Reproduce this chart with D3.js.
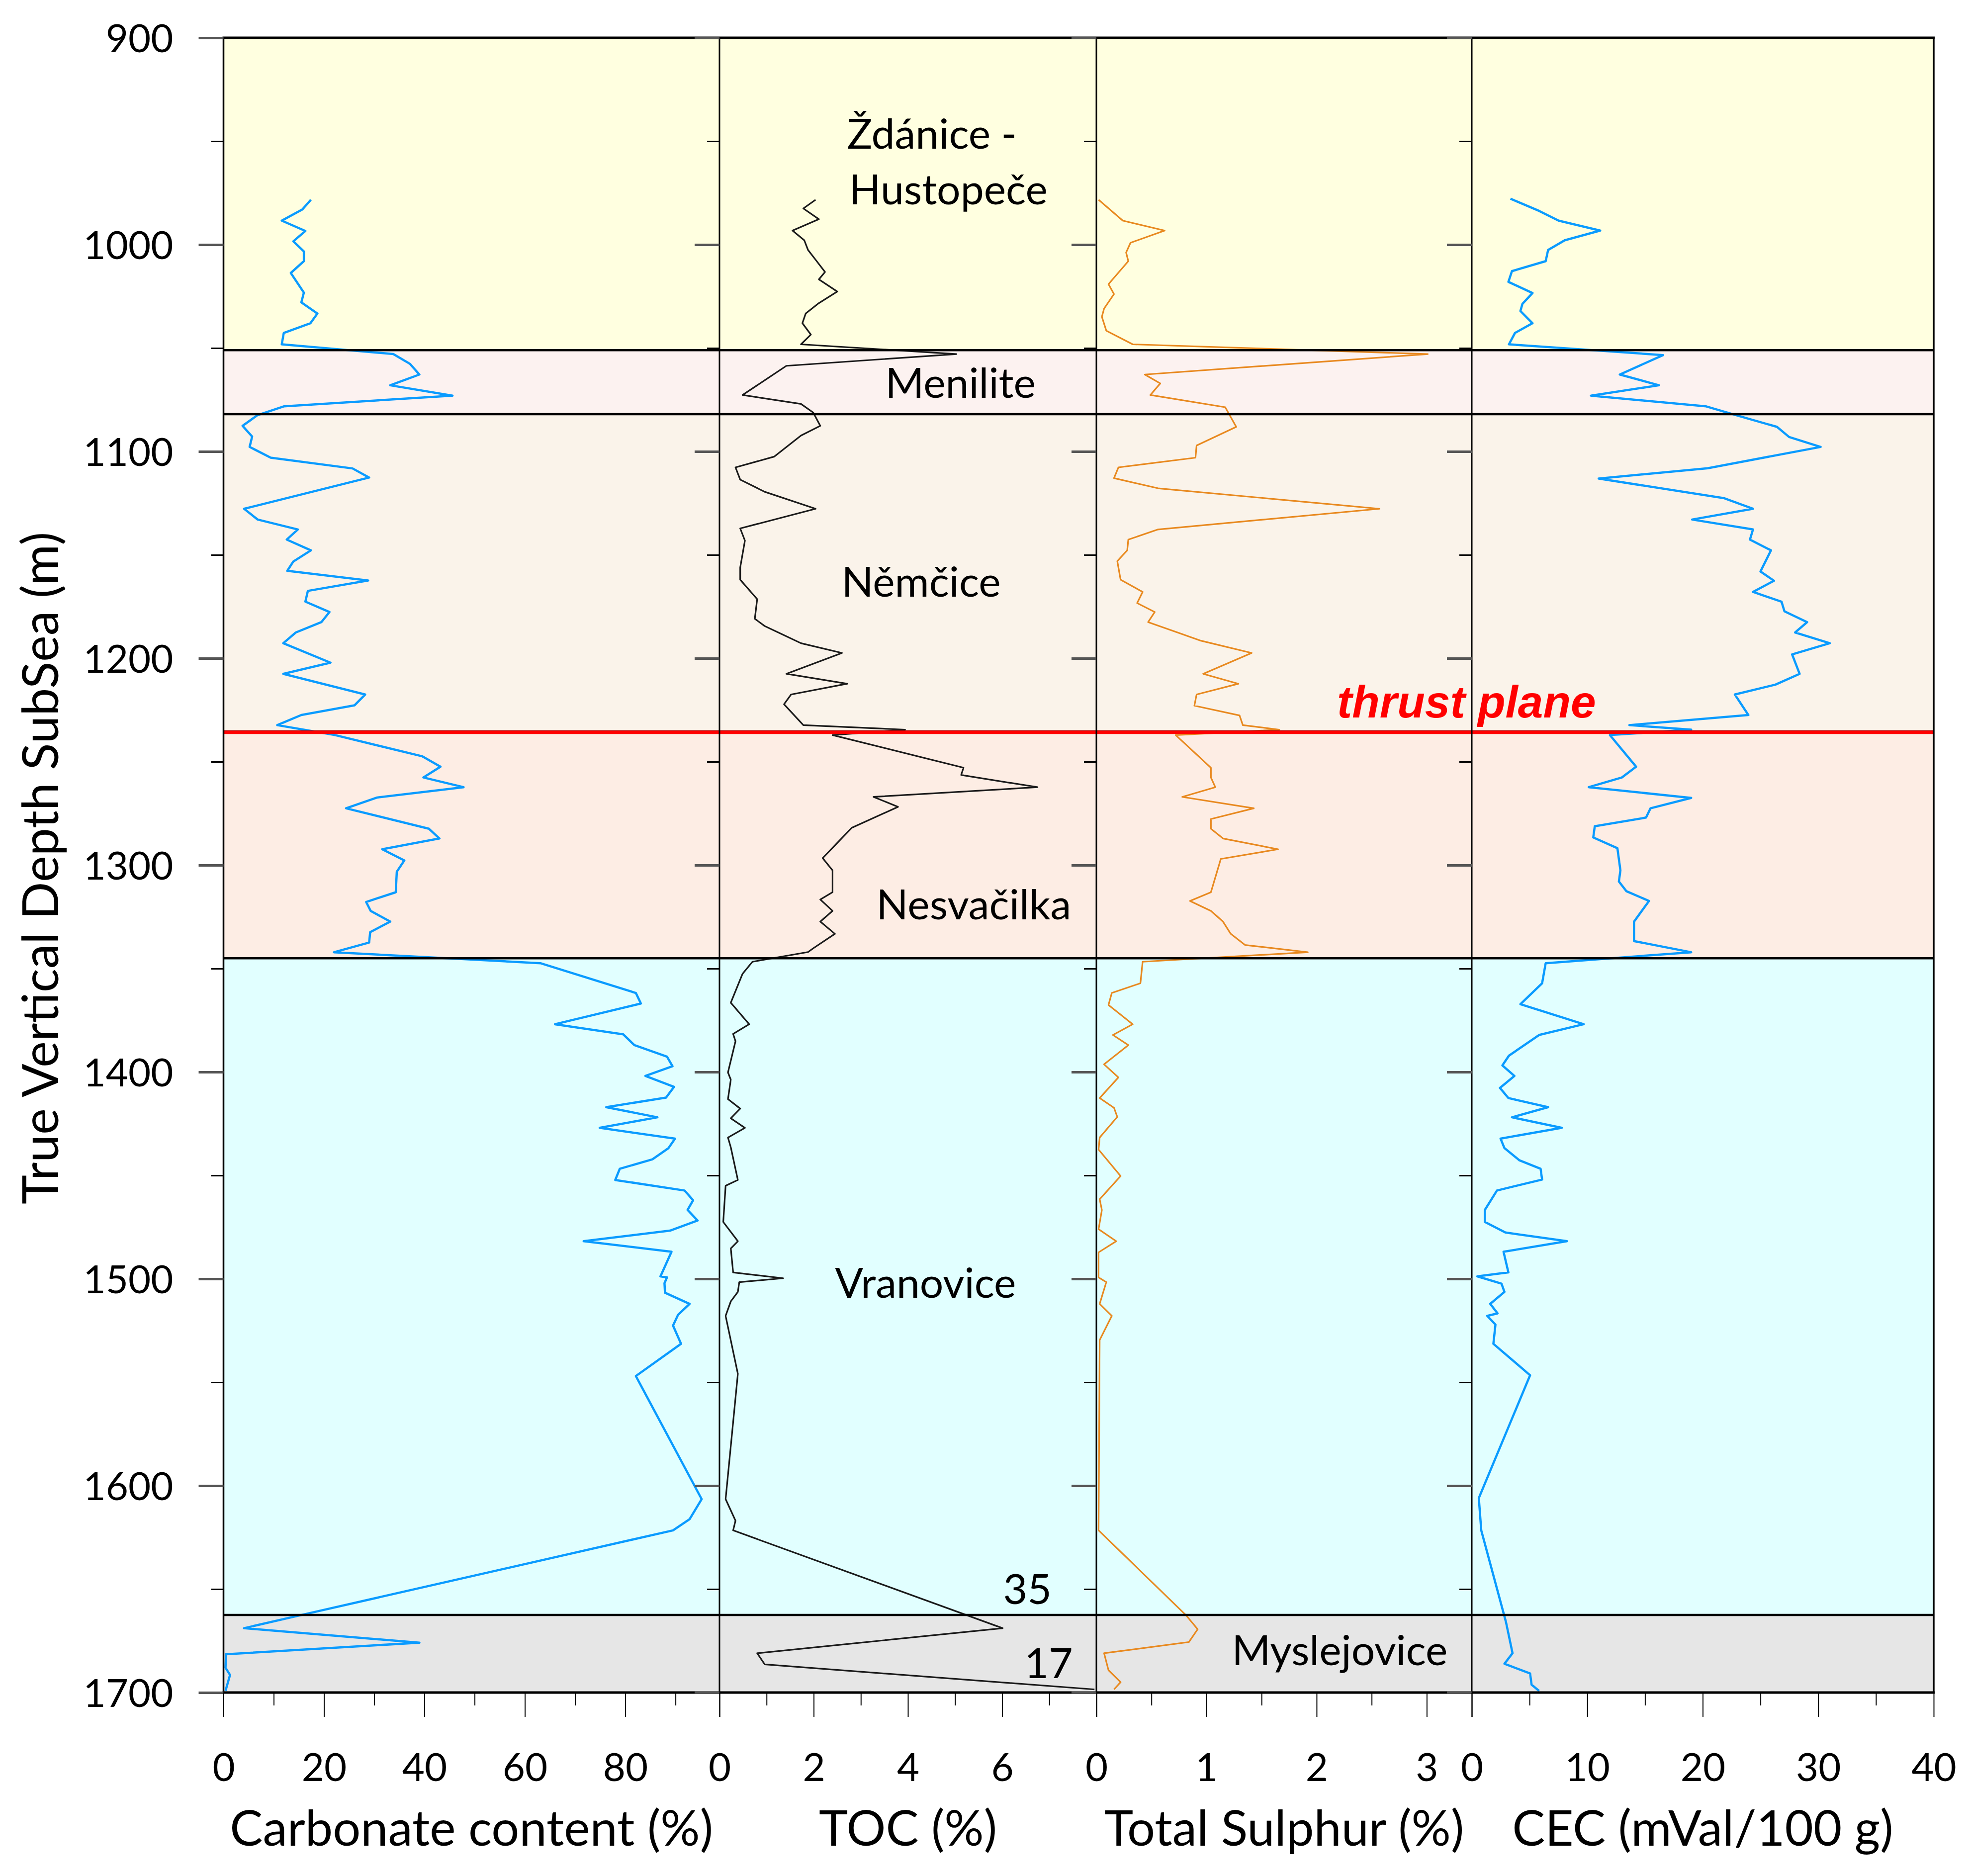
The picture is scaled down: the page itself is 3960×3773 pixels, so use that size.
<!DOCTYPE html>
<html>
<head>
<meta charset="utf-8">
<script src="https://cdn.jsdelivr.net/npm/d3@7/dist/d3.min.js"></script>
<style>
  html, body { margin: 0; padding: 0; background: #ffffff; }
  svg { display: block; }
</style>
</head>
<body>
<svg id="chart" width="3960" height="3773"></svg>
<script>
// ---------------- DATA ----------------
const depthMajorTicks = [900, 1000, 1100, 1200, 1300, 1400, 1500, 1600, 1700];
const depthMinorTicks = [950, 1050, 1150, 1250, 1350, 1450, 1550, 1650];

const zoneNames = ["Ždánice - Hustopeče", "Menilite", "Němčice", "Nesvačilka", "Vranovice", "Myslejovice"];
const zoneTop   = [900, 1051, 1082, 1235.5, 1345, 1662.5];
const zoneBase  = [1051, 1082, 1235.5, 1345, 1662.5, 1700];
const thrustDepth = 1235.5;

const carbDepth = [978.3,983.0,988.4,993.4,998.4,1003.3,1008.0,1013.7,1023.2,1027.9,1033.3,1038.0,1042.7,1048.2,
  1052.9,1057.6,1062.8,1068.0,1073.0,1078.2,1082.4,1087.6,1092.8,1097.8,1103.0,1108.2,1112.6,1127.7,1132.9,1137.7,
  1142.6,1147.8,1153.2,1157.7,1162.4,1167.4,1172.6,1177.6,1182.5,1187.5,1192.7,1202.1,1207.5,1217.5,1222.7,1227.4,
  1232.3,1237.1,1247.4,1252.4,1257.6,1262.3,1267.3,1272.5,1282.4,1287.1,1292.3,1297.7,1303.2,1313.1,1317.8,1322.1,
  1327.3,1332.4,1337.4,1342.1,1347.4,1361.8,1366.9,1376.9,1381.8,1387.0,1392.6,1397.2,1401.9,1407.2,1412.4,1417.0,
  1421.9,1427.0,1432.2,1436.8,1442.2,1446.8,1452.2,1457.3,1462.0,1466.7,1471.8,1476.7,1481.8,1486.9,1498.8,1499.3,
  1502.1,1506.7,1512.1,1517.4,1522.6,1531.4,1547.0,1606.5,1616.2,1621.6,1662.4,1668.9,1675.9,1681.5,1688.0,1691.5,1699.2];
const carbValue = [17.4,15.7,11.6,16.3,13.9,16.0,16.0,13.4,16.0,15.5,18.7,17.3,12.0,11.6,
  33.8,37.1,39.0,33.2,45.6,12.0,6.8,3.8,5.7,5.2,9.4,25.7,29.0,4.1,6.8,14.8,
  12.6,17.4,13.9,12.7,28.8,16.8,16.3,21.1,19.5,14.4,11.9,21.3,11.9,28.2,26.1,15.5,
  10.7,22.2,39.6,43.2,39.8,47.8,30.6,24.4,40.9,43.0,31.6,36.0,34.5,34.3,28.4,29.3,
  33.2,29.2,29.0,22.0,63.1,82.1,83.1,66.0,79.6,81.8,88.3,89.4,84.0,89.7,88.1,76.2,
  86.4,74.9,89.9,88.6,85.4,78.9,78.0,91.8,93.5,92.4,94.4,88.9,71.7,89.2,87.0,88.3,
  87.8,87.9,92.8,90.5,89.5,91.1,82.1,95.2,92.8,89.5,15.7,4.1,39.0,0.5,0.4,1.3,0.4];

const tocDepth = [978.3,982.5,987.7,993.2,997.9,1002.6,1007.3,1013.2,1016.8,1022.7,1028.6,1033.3,1038.0,1043.5,1048.2,
  1052.9,1058.6,1072.7,1077.0,1081.2,1087.6,1092.3,1102.5,1107.7,1113.6,1119.5,1127.7,1137.2,1143.1,1156.1,1162.0,
  1171.4,1180.9,1184.4,1192.7,1197.4,1207.5,1212.3,1217.5,1222.2,1232.3,1234.5,1237.1,1252.9,1256.4,1262.3,1267.0,
  1271.8,1281.9,1296.6,1302.5,1313.1,1316.6,1322.1,1327.3,1333.2,1340.2,1342.0,1346.7,1352.5,1366.5,1376.9,1381.6,
  1385.1,1400.2,1403.7,1413.1,1417.7,1422.4,1427.0,1431.7,1436.4,1452.2,1455.0,1472.5,1481.8,1485.3,1496.9,1499.7,
  1501.6,1506.3,1510.9,1517.9,1545.9,1606.5,1616.9,1621.6,1668.9,1681.0,1686.4,1698.5];
const tocValue = [2.04,1.78,2.11,1.55,1.80,1.88,2.04,2.24,2.11,2.50,2.09,1.83,1.76,1.94,1.73,
  5.03,1.42,0.49,1.73,1.99,2.14,1.73,1.16,0.34,0.44,0.96,2.04,0.44,0.54,0.44,0.44,
  0.80,0.75,0.96,1.73,2.60,1.42,2.71,1.52,1.37,1.78,3.94,2.40,5.18,5.13,6.75,3.27,
  3.79,2.81,2.19,2.40,2.40,2.14,2.40,2.14,2.45,1.99,1.88,0.70,0.49,0.24,0.63,0.29,
  0.34,0.18,0.24,0.18,0.44,0.24,0.54,0.18,0.24,0.39,0.13,0.08,0.39,0.24,0.29,1.35,
  0.42,0.39,0.24,0.13,0.39,0.13,0.34,0.29,6.01,0.80,0.96,7.96];

const sulphDepth = [978.3,988.4,993.2,999.1,1003.8,1008.0,1019.1,1023.9,1030.9,1034.9,1041.6,1048.2,1052.9,1062.8,
  1067.1,1072.7,1078.6,1088.1,1097.1,1103.0,1107.7,1112.9,1117.8,1127.7,1137.7,1142.6,1147.8,1153.0,1162.0,1167.9,
  1173.3,1177.6,1182.5,1191.5,1197.4,1207.5,1212.3,1217.5,1222.9,1227.6,1232.3,1234.5,1237.1,1252.9,1257.6,1262.3,
  1267.0,1272.5,1277.7,1282.4,1287.1,1292.3,1297.0,1313.1,1317.3,1322.1,1327.3,1333.2,1338.6,1342.1,1346.7,1357.1,
  1361.8,1367.6,1376.9,1382.1,1387.0,1396.3,1402.6,1412.6,1417.3,1421.7,1431.7,1437.5,1450.3,1461.5,1466.7,1476.0,
  1481.8,1487.2,1499.3,1501.6,1512.1,1517.9,1529.6,1621.6,1662.4,1669.4,1675.6,1681.0,1689.2,1695.0,1698.5];
const sulphValue = [0.02,0.24,0.62,0.31,0.27,0.29,0.11,0.16,0.07,0.05,0.09,0.33,3.01,0.44,
  0.58,0.49,1.17,1.27,0.91,0.90,0.20,0.16,0.56,2.57,0.56,0.29,0.28,0.19,0.22,0.42,
  0.37,0.53,0.47,0.95,1.41,0.97,1.29,0.91,0.89,1.30,1.33,1.66,0.72,1.04,1.04,1.08,
  0.78,1.43,1.04,1.04,1.15,1.65,1.13,1.04,0.85,1.04,1.15,1.22,1.35,1.92,0.42,0.40,
  0.14,0.11,0.33,0.15,0.29,0.07,0.20,0.03,0.16,0.19,0.03,0.02,0.22,0.03,0.05,0.02,
  0.18,0.02,0.02,0.09,0.03,0.14,0.03,0.02,0.81,0.92,0.84,0.07,0.11,0.22,0.16];

const cecDepth = [977.8,983.7,988.4,993.2,997.9,1002.6,1008.0,1012.8,1018.0,1023.4,1028.6,1032.1,1038.0,1042.7,1048.2,
  1053.4,1062.8,1068.0,1073.0,1078.2,1082.9,1088.1,1093.0,1097.8,1108.1,1113.1,1122.6,1127.7,1132.9,1137.7,1142.6,
  1147.8,1158.0,1162.5,1167.9,1172.6,1177.3,1182.5,1187.5,1192.7,1198.1,1207.5,1212.7,1217.5,1227.4,1232.3,1234.5,
  1237.1,1252.4,1257.6,1262.3,1267.5,1272.5,1277.0,1281.2,1286.6,1291.8,1302.5,1307.9,1312.6,1317.3,1327.3,1336.7,
  1342.1,1347.4,1357.1,1367.2,1376.9,1382.1,1392.1,1396.8,1401.9,1407.7,1412.6,1417.0,1421.9,1427.0,1432.2,1436.8,
  1442.7,1446.8,1452.0,1457.3,1466.7,1472.5,1477.6,1481.8,1486.9,1496.9,1498.8,1502.3,1506.3,1512.1,1516.7,1517.9,
  1522.1,1531.4,1546.6,1606.0,1621.6,1665.9,1681.0,1686.1,1690.8,1696.2,1699.2];
const cecValue = [3.35,5.83,7.52,11.12,8.05,6.61,6.40,3.48,3.17,5.26,4.39,4.21,5.26,3.74,3.22,
  16.57,12.82,16.21,10.32,20.3,23.17,26.43,27.48,30.21,20.43,10.99,21.87,24.35,19.08,24.35,24.09,
  25.91,25.0,26.17,24.35,26.82,27.08,29.04,28.0,31.0,27.74,28.39,26.3,22.78,23.95,13.65,19.0,
  11.96,14.23,13.0,10.13,19.0,15.48,15.09,10.65,10.52,12.61,12.87,12.74,13.39,15.35,14.05,14.05,
  19.0,6.40,6.09,4.21,9.69,5.83,3.22,2.65,3.69,2.44,3.17,6.61,3.48,7.79,2.49,2.83,
  4.13,5.96,6.09,2.18,1.13,1.13,2.91,8.25,2.75,3.17,0.48,2.57,2.83,1.60,2.23,1.34,
  2.05,1.87,5.05,0.61,0.82,2.96,3.53,2.83,5.05,5.18,5.83];

// bottom-axis tick values
const carbTicks = [0, 20, 40, 60, 80];
const carbMinor = [10, 30, 50, 70, 90];
const tocTicks = [0, 2, 4, 6];
const tocMinor = [1, 3, 5, 7];
const sulphTicks = [0, 1, 2, 3];
const sulphMinor = [0.5, 1.5, 2.5];
const cecTicks = [0, 10, 20, 30, 40];
const cecMinor = [5, 15, 25, 35];

const axisTitles = ["Carbonate content (%)", "TOC (%)", "Total Sulphur (%)", "CEC (mVal/100 g)"];
const depthTitle = "True Vertical Depth SubSea (m)";

// formation / annotation labels: text, panel index, value, depth (baseline), anchor
const labelText   = ["Ždánice -", "Hustopeče", "Menilite", "Němčice", "Nesvačilka", "Vranovice", "Myslejovice", "35", "17"];
const labelPanel  = [1, 1, 1, 1, 1, 1, 2, 1, 1];
const labelValue  = [2.71, 2.75, 3.52, 2.59, 3.33, 2.45, 1.23, 7.05, 7.5];
const labelDepth  = [953.6, 980.5, 1074, 1170.2, 1326.2, 1509.1, 1686.8, 1657.2, 1693];
const labelAnchor = ["start", "start", "start", "start", "start", "start", "start", "end", "end"];
const thrustLabel = "thrust plane";
const thrustLabelValue = 2.185;   // on sulphur scale
const thrustLabelDepth = 1228.6;

// ---------------- LAYOUT / STYLE ----------------
const FONT = "Lato, 'Open Sans', sans-serif";
const svg = d3.select("#chart");
const plotLeft = 449.5, plotRight = 3889, plotTop = 76, plotBottom = 3404;

const y = d3.scaleLinear().domain([900, 1700]).range([plotTop, plotBottom]);

const panels = [
  { x: d3.scaleLinear().domain([0, 98.75]).range([449.5, 1447]), depth: carbDepth, value: carbValue,
    ticks: carbTicks, minor: carbMinor, color: "#0A9BFF", width: 4.5 },
  { x: d3.scaleLinear().domain([0, 8]).range([1447, 2205]), depth: tocDepth, value: tocValue,
    ticks: tocTicks, minor: tocMinor, color: "#1a1a1a", width: 3.2 },
  { x: d3.scaleLinear().domain([0, 3.409]).range([2205, 2960]), depth: sulphDepth, value: sulphValue,
    ticks: sulphTicks, minor: sulphMinor, color: "#E8891F", width: 3.2 },
  { x: d3.scaleLinear().domain([0, 40]).range([2960, 3889]), depth: cecDepth, value: cecValue,
    ticks: cecTicks, minor: cecMinor, color: "#0A9BFF", width: 4.5 }
];

const zoneColors = ["#FFFFE0", "#FCF2F0", "#FAF3EA", "#FDEDE4", "#E1FFFF", "#E6E6E6"];

// zones
svg.append("g").selectAll("rect").data(zoneNames).join("rect")
  .attr("x", plotLeft).attr("width", plotRight - plotLeft)
  .attr("y", (d, i) => y(zoneTop[i]))
  .attr("height", (d, i) => y(zoneBase[i]) - y(zoneTop[i]))
  .attr("fill", (d, i) => zoneColors[i]);

// series
panels.forEach(p => {
  const pts = p.depth.map((d, i) => [d, p.value[i]]);
  const line = d3.line().x(d => p.x(d[1])).y(d => y(d[0]));
  svg.append("path").datum(pts).attr("d", line)
    .attr("fill", "none").attr("stroke", p.color).attr("stroke-width", p.width)
    .attr("stroke-linejoin", "round");
});

// zone boundary lines
const boundaries = zoneTop.slice(1).filter(d => d !== thrustDepth);
svg.append("g").selectAll("line").data(boundaries).join("line")
  .attr("x1", plotLeft).attr("x2", plotRight)
  .attr("y1", d => y(d)).attr("y2", d => y(d))
  .attr("stroke", "#000").attr("stroke-width", 4.5);

// thrust plane line
svg.append("line")
  .attr("x1", plotLeft).attr("x2", plotRight)
  .attr("y1", y(thrustDepth) - 1).attr("y2", y(thrustDepth) - 1)
  .attr("stroke", "#1a1a1a").attr("stroke-width", 4);
svg.append("line")
  .attr("x1", plotLeft).attr("x2", plotRight)
  .attr("y1", y(thrustDepth) + 1).attr("y2", y(thrustDepth) + 1)
  .attr("stroke", "#FF0000").attr("stroke-width", 7);

// panel dividers & frame
const dividers = panels.map(p => p.x.range()[0]).concat([plotRight]);
svg.append("g").selectAll("line").data(dividers).join("line")
  .attr("x1", d => d).attr("x2", d => d)
  .attr("y1", plotTop).attr("y2", plotBottom)
  .attr("stroke", "#000").attr("stroke-width", (d, i) => (i === 0 || i === dividers.length - 1) ? 3.5 : 3);
[plotTop, plotBottom].forEach(v => {
  svg.append("line").attr("x1", plotLeft - 2).attr("x2", plotRight + 2)
    .attr("y1", v).attr("y2", v).attr("stroke", "#000").attr("stroke-width", 5);
});

// depth ticks on each panel's left edge
panels.forEach((p, idx) => {
  const x0 = p.x.range()[0];
  const gMaj = svg.append("g").attr("transform", `translate(${x0},0)`)
    .call(d3.axisLeft(y).tickValues(depthMajorTicks).tickSize(50)
      .tickFormat(idx === 0 ? d3.format("d") : ""));
  gMaj.select(".domain").remove();
  gMaj.selectAll(".tick line").attr("stroke", "#555").attr("stroke-width", 5);
  gMaj.selectAll(".tick text")
    .attr("x", -101).attr("dy", "0.36em")
    .attr("font-family", FONT).attr("font-size", 78).attr("fill", "#000");
  const gMin = svg.append("g").attr("transform", `translate(${x0},0)`)
    .call(d3.axisLeft(y).tickValues(depthMinorTicks).tickSize(25).tickFormat(""));
  gMin.select(".domain").remove();
  gMin.selectAll(".tick line").attr("stroke", "#000").attr("stroke-width", 3);
});

// bottom axes
panels.forEach((p, idx) => {
  const gMaj = svg.append("g").attr("transform", `translate(0,${plotBottom})`)
    .call(d3.axisBottom(p.x).tickValues(p.ticks).tickSize(49).tickPadding(74).tickFormat(d3.format("")));
  gMaj.select(".domain").remove();
  gMaj.selectAll(".tick line").attr("stroke", "#000").attr("stroke-width", 2);
  gMaj.selectAll(".tick text").attr("font-family", FONT).attr("font-size", 78).attr("fill", "#000");
  const gMin = svg.append("g").attr("transform", `translate(0,${plotBottom})`)
    .call(d3.axisBottom(p.x).tickValues(p.minor).tickSize(26).tickFormat(""));
  gMin.select(".domain").remove();
  gMin.selectAll(".tick line").attr("stroke", "#000").attr("stroke-width", 2);

  const r = p.x.range();
  svg.append("text").attr("x", (r[0] + r[1]) / 2).attr("y", 3712)
    .attr("text-anchor", "middle").attr("font-family", FONT).attr("font-size", 99)
    .attr("fill", "#000").text(axisTitles[idx]);
});
// panel-end ticks for the first three panels
panels.slice(0, 3).forEach(p => {
  const g = svg.append("g").attr("transform", `translate(0,${plotBottom})`)
    .call(d3.axisBottom(p.x).tickValues([p.x.domain()[1]]).tickSize(49).tickFormat(""));
  g.select(".domain").remove();
  g.selectAll(".tick line").attr("stroke", "#000").attr("stroke-width", 2);
});

// depth axis title
svg.append("text")
  .attr("transform", `translate(117,${(plotTop + plotBottom) / 2 + 6}) rotate(-90)`)
  .attr("text-anchor", "middle").attr("font-family", FONT).attr("font-size", 100)
  .attr("fill", "#000").text(depthTitle);

// formation labels
svg.append("g").selectAll("text").data(labelText).join("text")
  .attr("x", (d, i) => panels[labelPanel[i]].x(labelValue[i]))
  .attr("y", (d, i) => y(labelDepth[i]))
  .attr("text-anchor", (d, i) => labelAnchor[i])
  .attr("font-family", FONT).attr("font-size", 84).attr("fill", "#000")
  .text(d => d);

// thrust plane label
svg.append("text")
  .attr("x", panels[2].x(thrustLabelValue)).attr("y", y(thrustLabelDepth))
  .attr("font-family", "'Liberation Sans', Arial, sans-serif")
  .attr("font-weight", "bold").attr("font-style", "italic")
  .attr("font-size", 91).attr("fill", "#FF0000")
  .text(thrustLabel);
</script>
</body>
</html>
